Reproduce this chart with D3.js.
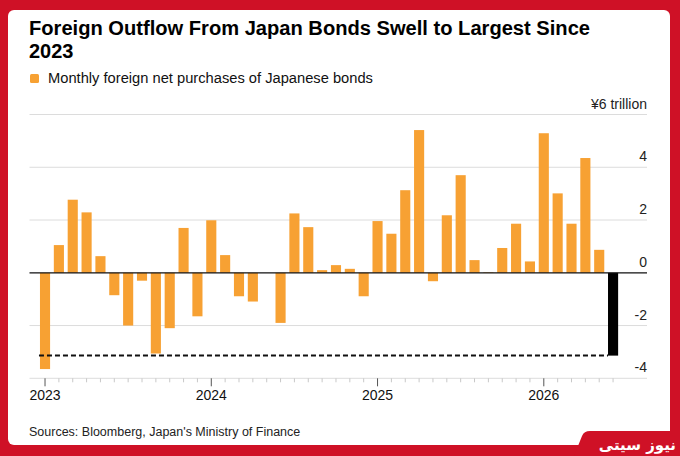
<!DOCTYPE html>
<html>
<head>
<meta charset="utf-8">
<script src="https://cdn.jsdelivr.net/npm/d3@7"></script>
<style>
  body { margin: 0; background: #cf1126; }
  svg { display: block; font-family: "Liberation Sans", Arial, sans-serif; }
</style>
</head>
<body>
<script>
// monthly foreign net purchases of Japanese bonds, ¥ trillion (Jan 2023 .. Jun 2026)
const values2023 = [-3.65, 1.05, 2.77, 2.29, 0.63, -0.85, -2.0, -0.30, -3.06, -2.10, 1.70, -1.65];
const values2024 = [1.99, 0.67, -0.89, -1.09, 0.0, -1.90, 2.25, 1.73, 0.10, 0.29, 0.15, -0.89];
const values2025 = [1.96, 1.48, 3.13, 5.41, -0.32, 2.18, 3.70, 0.48, 0.02, 0.94, 1.86, 0.43];
const values2026 = [5.29, 3.01, 1.86, 4.35, 0.87, -3.14];
const values = [...values2023, ...values2024, ...values2025, ...values2026];
const months = d3.timeMonths(new Date(2023, 0, 1), new Date(2026, 6, 1));
const yearTicks = ['2023', '2024', '2025', '2026'];
const yTicks = [-4, -2, 0, 2, 4, 6];

const width = 680;
const height = 456;
const orange = '#f7a133';

const data = months.map((m, i) => ({date: m, value: values[i]}));
const latest = data[data.length - 1];

const svg = d3.select('body')
  .append('svg')
    .attr('width', width)
    .attr('height', height);

// red frame + white card
svg.append('rect')
    .attr('width', width)
    .attr('height', height)
    .attr('fill', '#cf1126');
svg.append('rect')
    .attr('x', 8)
    .attr('y', 10)
    .attr('width', 662)
    .attr('height', 435)
    .attr('rx', 6)
    .attr('fill', '#fff');

// title
const title = svg.append('text')
    .attr('x', 29)
    .attr('font-size', 20)
    .attr('font-weight', 'bold')
    .attr('fill', '#000');
title.append('tspan').attr('x', 29).attr('y', 35)
    .attr('textLength', 561).attr('lengthAdjust', 'spacingAndGlyphs')
    .text('Foreign Outflow From Japan Bonds Swell to Largest Since');
title.append('tspan').attr('x', 29).attr('y', 58)
    .text('2023');

// legend
svg.append('rect')
    .attr('x', 30)
    .attr('y', 74)
    .attr('width', 9)
    .attr('height', 9)
    .attr('rx', 1.5)
    .attr('fill', orange);
svg.append('text')
    .attr('x', 48)
    .attr('y', 83)
    .attr('font-size', 14.7)
    .attr('fill', '#111')
    .text('Monthly foreign net purchases of Japanese bonds');

const x = d3.scaleBand()
  .domain(months)
  .range([38.1, 620])
  .paddingInner(0.27)
  .paddingOuter(0.135);

const y = d3.scaleLinear()
  .domain([-4, 6])
  .range([378.3, 114.5]);

const gridLeft = 29.5;
const gridRight = 647;

// gridlines
svg.append('g')
  .selectAll('line')
    .data(yTicks.filter(d => d !== 0))
  .enter().append('line')
    .attr('x1', gridLeft)
    .attr('x2', gridRight)
    .attr('y1', d => y(d))
    .attr('y2', d => y(d))
    .attr('stroke', '#dcdcdc')
    .attr('stroke-width', 1);

// y labels sit above their lines
svg.append('g')
  .selectAll('text')
    .data(yTicks)
  .enter().append('text')
    .attr('x', gridRight)
    .attr('y', d => y(d) - 6)
    .attr('text-anchor', 'end')
    .attr('font-size', 14)
    .attr('fill', '#222')
    .text(d => d === 6 ? '¥6 trillion' : d);

// bottom axis: monthly ticks, years labelled
const xAxis = svg.append('g');
xAxis.selectAll('line.minor')
    .data(months)
  .enter().append('line')
    .attr('class', 'minor')
    .attr('x1', d => x(d) + x.bandwidth() / 2)
    .attr('x2', d => x(d) + x.bandwidth() / 2)
    .attr('y1', y(-4))
    .attr('y2', d => d.getMonth() === 0 ? y(-4) + 8 : y(-4) + 4)
    .attr('stroke', d => d.getMonth() === 0 ? '#555' : '#c8c8c8')
    .attr('stroke-width', 1);
xAxis.selectAll('text')
    .data(months.filter(d => d.getMonth() === 0))
  .enter().append('text')
    .attr('x', d => x(d) + x.bandwidth() / 2)
    .attr('y', 400)
    .attr('text-anchor', 'middle')
    .attr('font-size', 14)
    .attr('fill', '#111')
    .text((d, i) => yearTicks[i]);

// bars
svg.append('g')
  .selectAll('rect')
    .data(data)
  .enter().append('rect')
    .attr('x', d => x(d.date))
    .attr('width', x.bandwidth())
    .attr('y', d => y(Math.max(0, d.value)))
    .attr('height', d => Math.abs(y(d.value) - y(0)))
    .attr('fill', d => d === latest ? '#000' : orange);

// zero line
svg.append('line')
    .attr('x1', gridLeft)
    .attr('x2', gridRight)
    .attr('y1', y(0))
    .attr('y2', y(0))
    .attr('stroke', '#111')
    .attr('stroke-width', 1.2);

// dashed reference at latest value
svg.append('line')
    .attr('x1', x(data[0].date) - 1)
    .attr('x2', x(latest.date))
    .attr('y1', y(latest.value))
    .attr('y2', y(latest.value))
    .attr('stroke', '#111')
    .attr('stroke-width', 2)
    .attr('stroke-dasharray', '5,3');

// source
svg.append('text')
    .attr('x', 29)
    .attr('y', 436)
    .attr('font-size', 12.5)
    .attr('fill', '#222')
    .text("Sources: Bloomberg, Japan's Ministry of Finance");

// logo tab
svg.append('path')
    .attr('d', 'M574,456 L582,436 Q584,431 590,431 L680,431 L680,456 Z')
    .attr('fill', '#cf1126');
svg.append('text')
    .attr('x', 676)
    .attr('y', 450)
    .attr('text-anchor', 'end')
    .attr('font-family', '"DejaVu Sans", sans-serif')
    .attr('font-weight', 'bold')
    .attr('font-size', 15)
    .attr('fill', '#fff')
    .text('نیوز سیتی');
</script>
</body>
</html>
